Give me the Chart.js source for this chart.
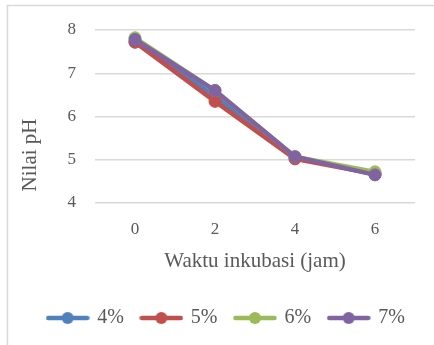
<!DOCTYPE html>
<html>
<head>
<meta charset="utf-8">
<script src="https://cdn.jsdelivr.net/npm/chart.js@4/dist/chart.umd.min.js"></script>
<style>
  html, body { margin: 0; padding: 0; background: #fff; }
  #wrap { width: 434px; height: 345px; position: relative; }
</style>
</head>
<body>
<div id="wrap"><canvas id="c" width="434" height="345"></canvas></div>
<script>
// Incubation time (hours) and pH value per concentration
const hours = ['0', '2', '4', '6'];
const seriesNames = ['4%', '5%', '6%', '7%'];
const ph4 = [7.72, 6.47, 5.05, 4.67];
const ph5 = [7.72, 6.35, 5.02, 4.67];
const ph6 = [7.82, 6.60, 5.07, 4.72];
const ph7 = [7.78, 6.60, 5.07, 4.65];
const yTicks = [4, 5, 6, 7, 8];

const colors = ['#4F81BD', '#C0504D', '#9BBB59', '#8064A2'];
const values = [ph4, ph5, ph6, ph7];
const serif = "'Liberation Serif', 'Times New Roman', serif";
const textColor = '#595959';

// Legend swatch: short line with a round marker in the middle
function swatch(color) {
  const cv = document.createElement('canvas');
  cv.width = 44; cv.height = 14;
  const g = cv.getContext('2d');
  g.strokeStyle = color; g.lineWidth = 4.5; g.lineCap = 'round';
  g.beginPath(); g.moveTo(2.5, 7); g.lineTo(41.5, 7); g.stroke();
  g.fillStyle = color;
  g.beginPath(); g.arc(22, 7, 6, 0, Math.PI * 2); g.fill();
  return cv;
}
const swatches = colors.map(swatch);

const frame = {
  id: 'frame',
  beforeDraw(chart) {
    const ctx = chart.ctx;
    ctx.save();
    ctx.strokeStyle = '#d9d9d9';
    ctx.lineWidth = 1.5;
    ctx.beginPath();
    ctx.moveTo(7.5, 345); ctx.lineTo(7.5, 5.5); ctx.lineTo(434, 5.5);
    ctx.stroke();
    ctx.restore();
  }
};

const yTitle = {
  id: 'yTitle',
  afterDraw(chart) {
    const ctx = chart.ctx;
    ctx.save();
    ctx.translate(30, 155);
    ctx.rotate(-Math.PI / 2);
    ctx.font = '21px ' + serif;
    ctx.fillStyle = textColor;
    ctx.textAlign = 'center';
    ctx.textBaseline = 'middle';
    ctx.fillText('Nilai pH', 0, 0);
    ctx.restore();
  }
};

new Chart(document.getElementById('c'), {
  type: 'line',
  data: {
    labels: hours,
    datasets: seriesNames.map((name, i) => ({
      label: name,
      data: values[i],
      borderColor: colors[i],
      backgroundColor: colors[i],
      pointBackgroundColor: colors[i],
      pointBorderColor: colors[i],
      borderWidth: 4.5,
      pointRadius: 6,
      pointBorderWidth: 1,
      tension: 0,
      order: seriesNames.length - i
    }))
  },
  options: {
    responsive: false,
    animation: false,
    layout: { padding: { left: 29, right: 10, top: 30, bottom: 7 } },
    scales: {
      x: {
        type: 'category',
        offset: true,
        grid: { display: false, drawTicks: false },
        border: { display: false },
        ticks: { color: textColor, font: { family: serif, size: 17 }, padding: 16 },
        title: {
          display: true,
          text: 'Waktu inkubasi (jam)',
          color: textColor,
          font: { family: serif, size: 21 },
          padding: { top: 0, bottom: 16 }
        },
        afterFit(s) { s.height = 87; }
      },
      y: {
        min: 4, max: 8,
        afterBuildTicks(s) { s.ticks = yTicks.map(v => ({ value: v })); },
        grid: { color: '#d9d9d9', lineWidth: 1.5, drawTicks: false },
        border: { display: false },
        ticks: { color: textColor, font: { family: serif, size: 17 }, padding: 19 },
        afterFit(s) { s.width = 66; }
      },
      // empty margin on the right of the plot
      yRight: {
        position: 'right',
        min: 4, max: 8,
        grid: { display: false, drawTicks: false },
        border: { display: false },
        ticks: { display: false },
        afterFit(s) { s.width = 9; }
      }
    },
    plugins: {
      tooltip: { enabled: false },
      legend: {
        position: 'bottom',
        labels: {
          color: textColor,
          font: { family: serif, size: 20 },
          usePointStyle: true,
          pointStyleWidth: 39,
          padding: 18,
          sort: (a, b) => a.datasetIndex - b.datasetIndex,
          generateLabels(chart) {
            const items = Chart.defaults.plugins.legend.labels.generateLabels(chart);
            items.forEach(it => { it.pointStyle = swatches[it.datasetIndex]; });
            return items;
          }
        }
      }
    }
  },
  plugins: [frame, yTitle]
});
</script>
</body>
</html>
